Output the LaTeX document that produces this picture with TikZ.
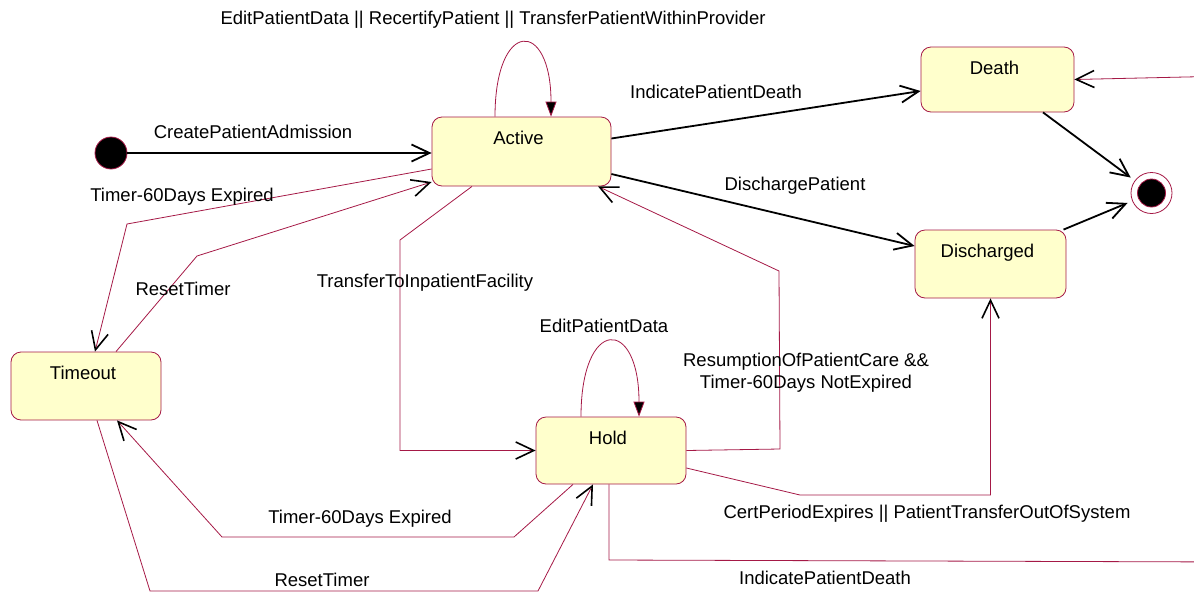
\documentclass[tikz,border=0pt]{standalone}
\usepackage{fontspec}
\setmainfont{Liberation Sans}
\usetikzlibrary{arrows.meta}
\definecolor{umlred}{RGB}{165,25,70}
\definecolor{umlfill}{RGB}{255,255,204}

\begin{document}
\begin{tikzpicture}[x=1pt,y=1pt,font=\fontsize{18.5}{22}\selectfont,
  state/.style={draw=umlred,fill=umlfill,rounded corners=10pt,line width=0.8pt,
    label={[anchor=base,xshift=-3pt,yshift=-28pt]north:#1}},
  pseudo/.style={circle,draw=umlred,line width=0.8pt,inner sep=0pt},
  trans/.style={draw=black,line width=1.8pt,-{Straight Barb[length=18pt,width=17pt]}},
  ret/.style={draw=umlred,line width=0.8pt,
    -{Straight Barb[length=18pt,width=17pt,line width=1.6pt,color=black]}},
  self/.style={draw=umlred,line width=0.8pt,-{Triangle[length=15pt,width=11pt,fill=black]}}]

  \useasboundingbox (0,0) rectangle (1194,-592);
  \clip (0,0) rectangle (1194,-592);

  % states
  \node[state=Active,minimum width=179pt,minimum height=69pt]     (active)     at (521.5,-151.5) {};
  \node[state=Death,minimum width=153pt,minimum height=65pt]      (death)      at (997.5,-79.5)  {};
  \node[state=Discharged,minimum width=151pt,minimum height=68pt] (discharged) at (990.5,-264)   {};
  \node[state=Timeout,minimum width=150pt,minimum height=68pt]    (timeout)    at (86,-386)      {};
  \node[state=Hold,minimum width=150pt,minimum height=67pt]       (hold)       at (611,-450.5)   {};

  % initial and final
  \node[pseudo,fill=black,minimum size=32pt] (start)   at (111,-153)    {};
  \node[pseudo,fill=white,minimum size=41pt] (stop)    at (1151.5,-193) {};
  \node[pseudo,fill=black,minimum size=28pt] (stopdot) at (stop)        {};

  % main flow
  \draw[trans] (start) -- (start -| active.west)
    node at (253,-132) {CreatePatientAdmission};
  \draw[trans] ([yshift=13pt]active.east) -- ([yshift=-11.5pt]death.west)
    node at (716,-92) {IndicatePatientDeath};
  \draw[trans] ([yshift=-22.5pt]active.east) -- ([yshift=18pt]discharged.west)
    node at (795,-186) {DischargePatient};
  \draw[trans,shorten >=5pt] ([xshift=45.5pt]death.south) -- (stop);
  \draw[trans,shorten >=5pt] ([xshift=73pt]discharged.north) -- (stop);

  % self transitions
  \draw[self] ([xshift=-26.5pt]active.north) .. controls +(0,98) and +(0,98) .. ([xshift=29.5pt]active.north)
    node at (493,-20) {EditPatientData || RecertifyPatient || TransferPatientWithinProvider};
  \draw[self] ([xshift=-30pt]hold.north) .. controls +(0,100) and +(0,100) .. ([xshift=28pt]hold.north)
    node at (604,-326) {EditPatientData};

  % timer
  \draw[ret] ([yshift=-17.5pt]active.west) -- (127,-224) -- ([xshift=9pt]timeout.north)
    node at (182,-197) {Timer-60Days Expired};
  \draw[ret] ([xshift=30pt]timeout.north) -- (197,-256) -- ([yshift=-30.5pt]active.west)
    node at (183,-289) {ResetTimer};
  \draw[ret] ([xshift=-38pt]hold.south) -- (514,-537) -- (222,-537) -- ([xshift=31pt]timeout.south)
    node at (360,-519) {Timer-60Days Expired};
  \draw[ret] ([xshift=11pt]timeout.south) -- (150,-591) -- (538,-591) -- ([xshift=-18pt]hold.south)
    node at (322,-580) {ResetTimer};

  % hold
  \draw[ret] ([xshift=-49.5pt]active.south) -- (400,-240) -- (400,-450.5) -- (hold.west)
    node at (425,-283) {TransferToInpatientFacility};
  \draw[ret] (hold.east) -- (780,-449) -- (779,-271) -- ([xshift=76.5pt]active.south)
    node[align=center] at (806,-372.5) {ResumptionOfPatientCare \&\&\\Timer-60Days NotExpired};
  \draw[ret] ([yshift=-17.5pt]hold.east) -- (800,-495) -- (discharged.south |- 0,-495) -- (discharged.south)
    node at (927,-514) {CertPeriodExpires || PatientTransferOutOfSystem};
  \draw[ret] ([xshift=-2pt]hold.south) -- (609,-560) -- (1230,-562) -- (1230,-76) -- (death.east)
    node at (825,-578) {IndicatePatientDeath};
\end{tikzpicture}
\end{document}
